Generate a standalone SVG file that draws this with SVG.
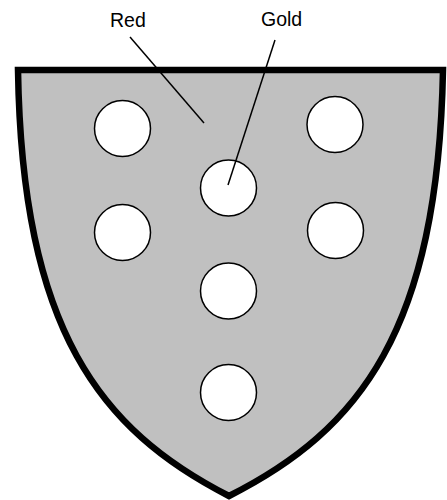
<svg xmlns="http://www.w3.org/2000/svg" width="447" height="500" viewBox="0 0 447 500">
<style>
.lbl{font-family:"Liberation Sans",Arial,sans-serif;font-size:19.5px;fill:#000}
.roundel{fill:#fff;stroke:#000;stroke-width:1.5}
.leader{stroke:#000;stroke-width:1.5;fill:none}
</style>
<rect width="447" height="500" fill="#fff"/>
<g id="shield">
<path d="M18 70 L443 70 C438 330 360 430 229 496 C100 430 22 330 18 70 Z" fill="#c0c0c0" stroke="#000" stroke-width="6.5" stroke-linejoin="miter"/>
</g>
<g id="roundels">
<circle class="roundel" cx="122.5" cy="128.5" r="28"/>
<circle class="roundel" cx="335" cy="124.5" r="28"/>
<circle class="roundel" cx="228.5" cy="188" r="28"/>
<circle class="roundel" cx="122.5" cy="232.5" r="28"/>
<circle class="roundel" cx="335.5" cy="230.5" r="28"/>
<circle class="roundel" cx="228.5" cy="291" r="28"/>
<circle class="roundel" cx="228.5" cy="392.5" r="28"/>
</g>
<g id="connectors">
<line class="leader" x1="130" y1="37" x2="204" y2="123"/>
<line class="leader" x1="275" y1="40" x2="228" y2="185"/>
</g>
<g id="label-red"><text class="lbl" x="110" y="27">Red</text></g>
<g id="label-gold"><text class="lbl" x="261" y="26">Gold</text></g>
</svg>
